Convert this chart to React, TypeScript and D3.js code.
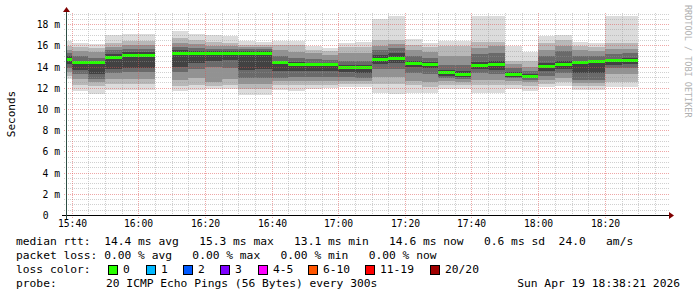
import React from 'react';
import * as d3 from 'd3';

// ---- data ----
const binEnds = ['15:40','15:45','15:50','15:55','16:00','16:05','16:10','16:15','16:20','16:25','16:30','16:35','16:40','16:45','16:50','16:55','17:00','17:05','17:10','17:15','17:20','17:25','17:30','17:35','17:40','17:45','17:50','17:55','18:00','18:05','18:10','18:15','18:20','18:25','18:30'];

const medianMs: (number | null)[] = [14.74, 14.42, 14.42, 14.92, 15.08, 15.08, null, 15.3, 15.3, 15.3, 15.3, 15.3, 15.3, 14.42, 14.2, 14.2, 14.2, 13.98, 13.92, 14.67, 14.79, 14.36, 14.23, 13.47, 13.28, 14.13, 14.26, 13.28, 13.1, 14.08, 14.23, 14.45, 14.48, 14.6, 14.6];

// sorted ping quantiles per bin: layer k spans [s[k], s[9-k]]
const smokeMs: (number[] | null)[] = [
  [12.9, 13.2, 13.5, 13.9, 14.3, 15.0, 15.3, 15.6, 16.0, 16.5],
  [11.7, 12.3, 12.9, 13.3, 13.7, 14.6, 15.0, 15.5, 15.9, 16.3],
  [11.5, 12.2, 12.6, 12.9, 13.3, 14.6, 14.9, 15.4, 15.8, 16.2],
  [11.8, 12.4, 12.9, 13.4, 13.8, 15.2, 15.6, 15.9, 16.3, 17.0],
  [11.8, 12.4, 12.9, 13.5, 13.9, 15.4, 15.7, 16.1, 16.5, 17.1],
  [11.8, 12.4, 12.9, 13.5, 13.9, 15.4, 15.7, 16.1, 16.5, 17.1],
  null,
  [11.7, 12.2, 12.8, 13.5, 14.0, 15.6, 15.9, 16.3, 16.7, 17.4],
  [11.8, 12.3, 13.0, 13.8, 14.4, 15.5, 15.8, 16.2, 16.6, 17.1],
  [11.9, 12.2, 12.6, 14.0, 14.6, 15.5, 15.7, 16.0, 16.4, 17.0],
  [11.9, 12.3, 12.9, 13.9, 14.7, 15.5, 15.7, 16.0, 16.3, 16.9],
  [11.4, 11.9, 12.4, 13.0, 13.7, 15.5, 15.7, 15.9, 16.1, 16.5],
  [11.4, 11.9, 12.4, 13.0, 13.8, 15.5, 15.7, 15.9, 16.1, 16.4],
  [11.8, 12.3, 12.7, 13.0, 13.6, 14.6, 15.0, 15.6, 16.1, 16.5],
  [11.7, 12.3, 12.7, 13.1, 13.6, 14.5, 14.9, 15.4, 16.1, 16.5],
  [11.9, 12.3, 12.7, 13.1, 13.6, 14.4, 14.8, 15.3, 15.6, 16.0],
  [12.0, 12.3, 12.7, 13.1, 13.6, 14.4, 14.7, 15.1, 15.5, 15.8],
  [12.1, 12.4, 12.7, 13.1, 13.5, 14.2, 14.6, 15.3, 15.9, 16.3],
  [12.1, 12.4, 12.7, 13.0, 13.4, 14.2, 14.6, 15.3, 15.9, 16.4],
  [11.55, 12.4, 13.1, 13.8, 14.3, 15.1, 15.6, 16.0, 16.6, 18.5],
  [11.5, 12.4, 13.1, 13.8, 14.4, 15.3, 15.8, 16.2, 16.6, 18.85],
  [11.55, 12.3, 12.7, 13.4, 14.0, 14.6, 15.0, 15.6, 16.1, 16.65],
  [11.55, 12.1, 12.6, 13.3, 13.9, 14.5, 14.9, 15.4, 15.9, 16.3],
  [11.9, 12.3, 12.7, 13.0, 13.2, 13.7, 14.2, 15.0, 16.0, 16.5],
  [11.9, 12.3, 12.6, 12.9, 13.1, 13.6, 14.2, 15.0, 16.0, 16.5],
  [11.55, 12.3, 12.8, 13.4, 13.8, 14.5, 15.2, 15.8, 16.4, 18.85],
  [11.55, 12.3, 12.8, 13.3, 13.7, 14.6, 15.3, 16.0, 16.4, 18.85],
  [11.9, 12.3, 12.7, 13.0, 13.1, 13.5, 13.9, 14.3, 14.6, 16.0],
  [11.7, 12.2, 12.6, 12.8, 12.95, 13.3, 13.6, 14.0, 14.6, 15.4],
  [12.1, 12.4, 12.8, 13.2, 13.6, 14.4, 15.0, 15.6, 16.3, 16.9],
  [12.2, 12.6, 13.0, 13.4, 13.8, 14.6, 15.5, 16.0, 16.6, 17.05],
  [11.85, 12.2, 12.5, 12.8, 13.4, 14.6, 15.0, 15.6, 16.0, 16.4],
  [11.85, 12.2, 12.5, 12.8, 13.4, 14.6, 15.0, 15.5, 15.9, 16.25],
  [12.1, 12.6, 13.3, 13.9, 14.2, 14.8, 15.2, 15.7, 16.3, 18.85],
  [12.1, 12.6, 13.3, 13.9, 14.3, 14.9, 15.3, 15.7, 16.3, 18.85],
];

const smokeColors = ['#dcdcdc', '#b8b8b8', '#929292', '#6a6a6a', '#424242'];
const yTicks = [0, 2, 4, 6, 8, 10, 12, 14, 16, 18];
const xTickLabels = ['15:40', '16:00', '16:20', '16:40', '17:00', '17:20', '17:40', '18:00', '18:20'];

const rttValues = [14.4, 15.3, 13.1, 14.6]; // avg, max, min, now
const rttNames = ['avg', 'max', 'min', 'now'];
const rttSd = 0.6;
const rttAmS = 24.0;
const lossValues = [0, 0, 0, 0];
const lossLabels = ['0', '1', '2', '3', '4-5', '6-10', '11-19', '20/20'];
const lossColors = ['#26ff00', '#00b8ff', '#0059ff', '#7e00ff', '#ff00ff', '#ff5500', '#ff0000', '#a00000'];
const lossSwatchX = [108, 146, 183, 220, 258, 308, 365, 430];

const START = new Date(2026, 3, 19, 15, 38, 21);
const END = new Date(2026, 3, 19, 18, 38, 21);
const toDate = (s: string) => {
  const [h, m] = s.split(':').map(Number);
  return new Date(2026, 3, 19, h, m, 0);
};

const MONO = '"DejaVu Sans Mono", monospace';
const nb = (s: string) => s.replace(/ /g, '\u00a0');

export default function App() {
  const x = d3.scaleTime().domain([START, END]).range([66, 666]);
  const y = d3.scaleLinear().domain([0, 19.1]).range([215.5, 13]);
  const plotLeft = 66;
  const top = 13;

  const px = (d: Date) => Math.round(x(d));
  const py = (v: number) => Math.round(y(v));

  const minorY = d3.range(0.5, 19.01, 0.5).filter((v) => Math.abs(v % 2) > 1e-6);
  const majorY = yTicks.filter((v) => v > 0);
  const minorX = d3.timeMinute.every(5)!.range(START, END).filter((d) => d.getMinutes() % 20 !== 0);
  const majorX = xTickLabels.map(toDate);

  const smokeRects: JSX.Element[] = [];
  const medRects: JSX.Element[] = [];
  binEnds.forEach((e, i) => {
    const end = toDate(e);
    const start = d3.timeMinute.offset(end, -5);
    const x0 = Math.max(plotLeft, px(start));
    const x1 = px(end);
    const s = smokeMs[i];
    if (s) {
      for (let k = 0; k < 5; k++) {
        const yTop = Math.max(top, py(s[9 - k]));
        const yBot = py(s[k]);
        smokeRects.push(
          <rect key={`s${i}-${k}`} x={x0} y={yTop} width={x1 - x0} height={yBot - yTop} fill={smokeColors[k]} />
        );
      }
    }
    const m = medianMs[i];
    if (m != null) {
      const yc = y(m);
      medRects.push(
        <rect key={`m${i}`} x={x0} y={Math.round(yc - 1.5)} width={x1 - x0} height={3} fill={lossColors[0]} />
      );
    }
  });

  const gridY = (v: number) => Math.floor(y(v)) + 0.5;
  const gridX = (d: Date) => Math.round(x(d)) + 0.5;

  const f1 = (v: number) => v.toFixed(1);
  const f2 = (v: number) => v.toFixed(2);
  const rttLine =
    'median rtt:  ' +
    rttValues.map((v, i) => `${f1(v)} ms ${rttNames[i]}`).join('   ') +
    `   ${f1(rttSd)} ms sd  ${f1(rttAmS)}   am/s`;
  const lossLine =
    'packet loss: ' + lossValues.map((v, i) => `${f2(v)} % ${rttNames[i]}`).join('   ');

  return (
    <svg width={697} height={297} style={{ position: 'fixed', left: 0, top: 0, background: '#fff' }} shapeRendering="crispEdges">
      <rect x={0} y={0} width={697} height={297} fill="#ffffff" />
      <g>{smokeRects}</g>
      <g>{medRects}</g>
      {/* grid */}
      <g strokeDasharray="1,1" strokeWidth={1}>
        {minorY.map((v) => (
          <line key={`hy${v}`} x1={64} x2={669} y1={gridY(v)} y2={gridY(v)} stroke="rgba(150,150,150,0.45)" />
        ))}
        {minorX.map((d) => (
          <line key={`vx${+d}`} x1={gridX(d)} x2={gridX(d)} y1={top} y2={215} stroke="rgba(150,150,150,0.45)" />
        ))}
        {majorY.map((v) => (
          <line key={`Hy${v}`} x1={64} x2={669} y1={gridY(v)} y2={gridY(v)} stroke="rgba(222,80,80,0.5)" />
        ))}
        {majorX.map((d) => (
          <line key={`Vx${+d}`} x1={gridX(d)} x2={gridX(d)} y1={top} y2={218} stroke="rgba(222,80,80,0.5)" />
        ))}
      </g>
      {/* axes */}
      <line x1={62} x2={670} y1={215.5} y2={215.5} stroke="#000" />
      <line x1={66.5} x2={66.5} y1={219} y2={10} stroke="#2C4D43" />
      <path d="M669,212 L674,215.5 L669,219 Z" fill="#7f0000" shapeRendering="auto" />
      <path d="M63,12 L66.5,7 L70,12 Z" fill="#7f0000" shapeRendering="auto" />
      {/* tick labels */}
      <g fontFamily={MONO} fontSize={9.7} fill="#000">
        {yTicks.map((v) => (
          <text key={`yl${v}`} x={v === 0 ? 48.5 : 60} y={y(v) + 3.5} textAnchor="end">
            {v === 0 ? '0' : `${v} m`}
          </text>
        ))}
        {majorX.map((d, i) => (
          <text key={`xl${i}`} x={gridX(d)} y={227} textAnchor="middle">
            {xTickLabels[i]}
          </text>
        ))}
      </g>
      <text transform="translate(15,114) rotate(-90)" textAnchor="middle" fontFamily={MONO} fontSize={11} fill="#000">
        Seconds
      </text>
      <text transform="translate(685,5) rotate(90)" fontFamily={MONO} fontSize={8.5} fill="#b0b0b0">
        {nb('RRDTOOL / TOBI OETIKER')}
      </text>
      {/* legend */}
      <g fontFamily={MONO} fontSize={11.28} fill="#000">
        <text x={16} y={245}>{nb(rttLine)}</text>
        <text x={16} y={259}>{nb(lossLine)}</text>
        <text x={16} y={273}>{nb('loss color:')}</text>
        {lossLabels.map((t, i) => (
          <g key={`lc${i}`}>
            <rect x={lossSwatchX[i] + 0.5} y={265.5} width={9} height={9} fill={lossColors[i]} stroke="#000" />
            <text x={lossSwatchX[i] + 15} y={273}>{t}</text>
          </g>
        ))}
        <text x={16} y={287}>probe:</text>
        <text x={106} y={287}>{nb('20 ICMP Echo Pings (56 Bytes) every 300s')}</text>
        <text x={680} y={287} textAnchor="end">{nb('Sun Apr 19 18:38:21 2026')}</text>
      </g>
    </svg>
  );
}
